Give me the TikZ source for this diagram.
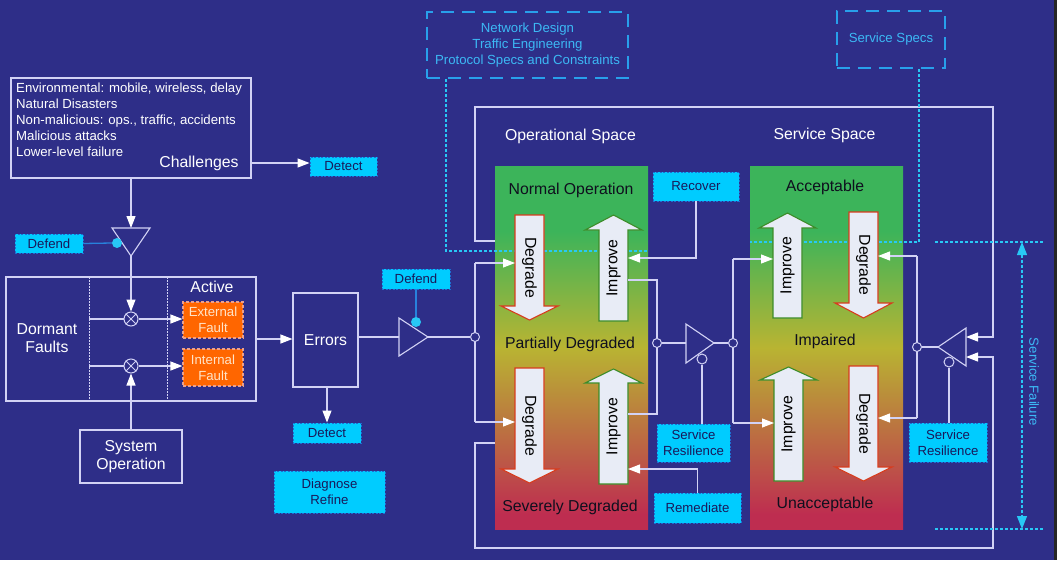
\documentclass[tikz,border=0pt]{standalone}
\usepackage{fontspec}
\setmainfont{Liberation Sans}
\usetikzlibrary{arrows.meta,calc}

\definecolor{bg}{RGB}{46,46,136}
\definecolor{lav}{RGB}{210,210,245}
\definecolor{cyanbox}{RGB}{0,204,255}
\definecolor{cyanedge}{RGB}{30,110,210}
\definecolor{navytxt}{RGB}{25,25,90}
\definecolor{cyantxt}{RGB}{60,185,245}
\definecolor{dcol}{RGB}{40,160,235}
\definecolor{dotc}{RGB}{40,200,245}
\definecolor{bluel}{RGB}{40,130,220}
\definecolor{orng}{RGB}{255,102,0}
\definecolor{fedge}{RGB}{235,160,140}
\definecolor{ftxt}{RGB}{255,228,200}
\definecolor{gtop}{RGB}{60,180,90}
\definecolor{gmid}{RGB}{185,180,50}
\definecolor{gbot}{RGB}{190,45,80}
\definecolor{arrfill}{RGB}{232,236,246}
\definecolor{degc}{RGB}{215,60,30}
\definecolor{impc}{RGB}{60,140,40}
\definecolor{gtext}{RGB}{15,15,30}

\pgfdeclareverticalshading{stategrad}{100bp}{color(0bp)=(gbot); color(27bp)=(gbot); color(50bp)=(gmid); color(66bp)=(gtop); color(100bp)=(gtop)}

\newcommand\fsmall{\fontsize{13.2}{16}\selectfont}
\newcommand\fbig{\fontsize{15.8}{18.5}\selectfont}

\tikzset{
 wl/.style={draw=lav, line width=1.1pt},
 arr/.style={wl, -{Triangle[length=12pt,width=9pt,color=white]}},
 wbox/.style={draw=lav, line width=1.1pt, text=white, font=\fbig, align=center, inner sep=0pt},
 cbox/.style={fill=cyanbox, draw=cyanedge, line width=0.9pt, dash pattern=on 2pt off 1.5pt, text=navytxt, font=\fsmall, align=center, inner sep=0pt},
 fbox/.style={fill=orng, draw=fedge, line width=1.1pt, dash pattern=on 3pt off 2pt, text=ftxt, font=\fontsize{13.2}{15.7}\selectfont, align=center, inner sep=0pt},
 dbox/.style={draw=dcol, line width=1.5pt, dash pattern=on 13pt off 8pt, text=cyantxt, font=\fsmall, align=center, inner sep=0pt},
 dotl/.style={draw=dotc, line width=1.2pt, dash pattern=on 3pt off 2pt},
 bline/.style={draw=bluel, line width=1.3pt},
 fdot/.style={circle, fill=dotc, inner sep=0pt, minimum size=10pt},
 hring/.style={circle, draw=lav, fill=bg, line width=1pt, inner sep=0pt, minimum size=9pt},
 xcirc/.style={circle, draw=lav, fill=bg, line width=1pt, inner sep=0pt, minimum size=14pt},
 gtxt/.style={font=\fbig, text=gtext},
 wtxt/.style={font=\fbig, text=white, inner sep=0pt, align=center},
 blk/.style={fill=arrfill, line width=1.1pt},
 vdots/.style={draw=lav, line width=1pt, dash pattern=on 1.5pt off 1.5pt},
 grad/.style={shading=stategrad},
}

\newcommand\blkdown[5]{%
  \draw[blk, draw=degc] (#1-14.5,#2) -- (#1+14.5,#2) -- (#1+14.5,#3) -- (#1+28.5,#3) -- (#1,#4) -- (#1-28.5,#3) -- (#1-14.5,#3) -- cycle;
  \node[font=\fbig, text=black, rotate=-90, inner sep=0pt] (#5) at (#1,{(#2+#4)/2}) {Degrade};}
\newcommand\blkup[5]{%
  \draw[blk, draw=impc] (#1-14.5,#2) -- (#1+14.5,#2) -- (#1+14.5,#3) -- (#1+28.5,#3) -- (#1,#4) -- (#1-28.5,#3) -- (#1-14.5,#3) -- cycle;
  \node[font=\fbig, text=black, rotate=90, inner sep=0pt] (#5) at (#1,{(#2+#4)/2}) {Improve};}

\begin{document}
\begin{tikzpicture}[x=1pt,y=-1pt]
\useasboundingbox (0,0) rectangle (1057,560);
\fill[bg] (0,0) rectangle (1057,560);
\fill[black!85] (1054,0) rectangle (1057,560);

% ---------- Challenges ----------
\node[wbox, minimum width=240, minimum height=100] (chal) at (131,128) {};
\node[anchor=base west, font=\fsmall, text=white, inner sep=0pt] (ch1) at (16,92.5) {Environmental: mobile, wireless, delay};
\node[anchor=base west, font=\fsmall, text=white, inner sep=0pt] (ch2) at (16,108.5) {Natural Disasters};
\node[anchor=base west, font=\fsmall, text=white, inner sep=0pt] (ch3) at (16,124.5) {Non-malicious: ops., traffic, accidents};
\node[anchor=base west, font=\fsmall, text=white, inner sep=0pt] (ch4) at (16,140.5) {Malicious attacks};
\node[anchor=base west, font=\fsmall, text=white, inner sep=0pt] (ch5) at (16,156.5) {Lower-level failure};
\node[wtxt] (chlab) at (199,163) {Challenges};

\node[cbox, minimum width=67, minimum height=19] (det1) at (343.5,166.5) {Detect};
\draw[arr] (chal.east |- 0,163) -- (det1.west |- 0,163);

% amplifier 1
\coordinate (a1l) at (112,228);
\coordinate (a1r) at (150,228);
\coordinate (a1t) at (131,256);
\draw[arr] (chal.south) -- (chal.south |- a1l);
\draw[wl, fill=bg] (a1l) -- (a1r) -- (a1t) -- cycle;
\node[cbox, minimum width=68, minimum height=19] (def1) at (49,243.5) {Defend};
\node[fdot] (d1dot) at (117,243) {};
\draw[bline] (def1.east) -- (d1dot.west);

% ---------- Faults ----------
\node[wbox, minimum width=250, minimum height=124] (fault) at (131,339) {};
\draw[vdots] (89,277) -- (89,401);
\draw[vdots] (167,277) -- (167,401);
\node[wtxt] (actv) at (212,287) {Active};
\node[wtxt, font=\fontsize{15.8}{18.7}\selectfont] (dorm) at (47,338) {Dormant\\Faults};
\node[fbox, minimum width=60, minimum height=36] (ext) at (213,320) {External\\Fault};
\node[fbox, minimum width=60, minimum height=37] (int) at (213,367.5) {Internal\\Fault};
\draw[wl] (89,319) -- (131,319);
\draw[wl] (89,366) -- (131,366);
\node[xcirc] (x1) at (131,319) {};
\node[xcirc] (x2) at (131,366) {};
\draw[wl, line width=1pt] (x1.north west) -- (x1.south east) (x1.north east) -- (x1.south west);
\draw[wl, line width=1pt] (x2.north west) -- (x2.south east) (x2.north east) -- (x2.south west);
\draw[arr] (a1t) -- (x1.north);
\draw[arr] (x1.east) -- (ext.west |- x1);
\draw[arr] (x2.east) -- (int.west |- x2);
\node[wbox, minimum width=102, minimum height=53, font=\fontsize{15.8}{18.3}\selectfont] (sysop) at (131,456.5) {System\\Operation};
\draw[arr] (sysop.north) -- (x2.south);

% ---------- Errors ----------
\node[wbox, minimum width=65, minimum height=94] (err) at (325.5,340) {Errors};
\draw[arr] (fault.east |- 0,339) -- (err.west |- 0,339);
\coordinate (a2b1) at (399,318);
\coordinate (a2b2) at (399,356);
\coordinate (a2t) at (428,337);
\draw[wl] (err.east |- 0,337) -- (399,337);
\draw[wl, fill=bg] (a2b1) -- (a2b2) -- (a2t) -- cycle;
\node[cbox, minimum width=68, minimum height=20] (def2) at (416,279) {Defend};
\node[fdot] (d2dot) at (416,322) {};
\draw[bline] (def2.south) -- (d2dot.north);
\node[cbox, minimum width=68, minimum height=20] (det2) at (327,433) {Detect};
\draw[arr] (det2.north |- err.south) -- (det2.north);
\node[cbox, minimum width=111, minimum height=42] (diag) at (329.5,492) {Diagnose\\Refine};

% ---------- Spec boxes ----------
\node[dbox, minimum width=201, minimum height=66] (nd) at (527.5,45) {Network Design\\Traffic Engineering\\Protocol Specs and Constraints};
\node[dbox, minimum width=108, minimum height=57] (ss) at (891,39.5) {Service Specs};

% ---------- frame ----------
\draw[arr] (515,241) -- (475,241) |- (993,107) -- (993,337) -- (966,337);
\draw[arr] (515,443) -- (475,443) |- (993,548) -- (993,357) -- (966,357);

% ---------- gradients ----------
\shade[grad] (495,166) rectangle (648,529);
\shade[grad] (750,166) rectangle (903,529);

% dotted spec lines
\draw[dotl] (nd.south -| 446,0) |- (648,251);
\draw[dotl] (ss.south -| 919,0) |- (750,242);
\draw[dotl] (935,242) -- (1044,242);
\draw[dotl] (935,529) -- (1044,529);
\coordinate (sft) at (1022,242);
\coordinate (sfb) at (1022,529);
\draw[dotl, {Triangle[length=13pt,width=10pt,color=dotc]}-{Triangle[length=13pt,width=10pt,color=dotc]}] (sft) -- (sfb);
\node[font=\fsmall, text=cyantxt, rotate=-90, inner sep=0pt] (sfail) at (1034,382) {Service Failure};

% space titles
\node[wtxt] (opsp) at (570.5,136) {Operational Space};
\node[wtxt] (svsp) at (824.5,135) {Service Space};

% state labels
\node[gtxt] (s1) at (571,190) {Normal Operation};
\node[gtxt] (s2) at (570,344) {Partially Degraded};
\node[gtxt] (s3) at (570,507) {Severely Degraded};
\node[gtxt] (s4) at (825,187) {Acceptable};
\node[gtxt] (s5) at (825,341) {Impaired};
\node[gtxt] (s6) at (825,504) {Unacceptable};

% block arrows
\blkdown{529.5}{215}{306}{320}{dg1}
\blkup{613.5}{321}{230}{215}{im1}
\blkdown{529.5}{368}{469}{483}{dg2}
\blkup{613.5}{484}{383}{369}{im2}
\blkup{787.5}{318}{228}{213}{im3}
\blkdown{863.5}{212}{303}{318}{dg3}
\blkup{788.5}{481}{380}{367}{im4}
\blkdown{863.5}{366}{467}{481}{dg4}

% ---------- defend output into operational space ----------
\draw[wl] (475,263) -- (475,422);
\draw[arr] (475,263) -- (515,263);
\draw[arr] (475,422) -- (515,422);
\node[hring] (c1) at (475,337) {};
\draw[wl] (a2t) -- (c1.west);

% ---------- middle amplifier ----------
\draw[wl] (628,280) -- (657,280) -- (657,414) -- (628,414);
\node[hring] (c2) at (657,343) {};
\coordinate (a3b1) at (686,324);
\coordinate (a3b2) at (686,363);
\coordinate (a3t) at (714,343);
\draw[wl] (c2.east) -- (686,343);
\draw[wl, fill=bg] (a3b1) -- (a3t) -- (a3b2) -- cycle;
\draw[wl] (733,259) -- (733,423);
\draw[arr] (733,259) -- (773,259);
\draw[arr] (733,423) -- (774,423);
\node[hring] (c3) at (733,343) {};
\draw[wl] (a3t) -- (c3.west);
\node[hring, minimum size=10pt] (b1) at (702,359) {};
\node[cbox, minimum width=73, minimum height=38] (sr1) at (693.5,443) {Service\\Resilience};
\draw[wl] (b1.south) -- (b1.south |- sr1.north);

% recover / remediate
\node[cbox, minimum width=86, minimum height=29] (rec) at (696,186.5) {Recover};
\draw[arr] (rec.south) |- (628,258);
\node[cbox, minimum width=87, minimum height=30] (rem) at (697.5,508) {Remediate};
\draw[arr] (rem.north) |- (628,469);

% ---------- right amplifier ----------
\coordinate (a4b1) at (966,328);
\coordinate (a4b2) at (966,366);
\coordinate (a4t) at (938,347);
\draw[wl, fill=bg] (a4b1) -- (a4t) -- (a4b2) -- cycle;
\draw[wl] (917,256) -- (917,418);
\draw[arr] (917,256) -- (878,256);
\draw[arr] (917,418) -- (878,418);
\node[hring] (c4) at (917,347) {};
\draw[wl] (c4.east) -- (a4t);
\node[hring, minimum size=10pt] (b2) at (949,362) {};
\node[cbox, minimum width=78, minimum height=39] (sr2) at (948,442.5) {Service\\Resilience};
\draw[wl] (b2.south) -- (b2.south |- sr2.north);
\end{tikzpicture}
\end{document}
